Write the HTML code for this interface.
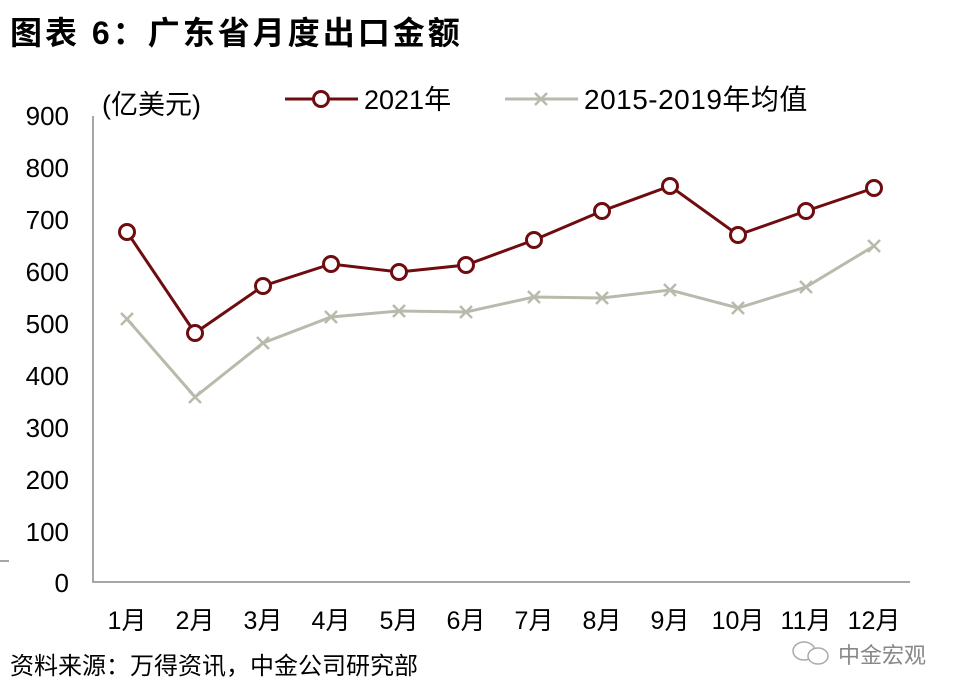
<!DOCTYPE html>
<html><head><meta charset="utf-8"><style>
body{margin:0;background:#fff;}
svg{display:block;font-family:"Liberation Sans","Noto Sans CJK SC",sans-serif;}
</style></head><body>
<svg width="960" height="697" viewBox="0 0 960 697" xmlns="http://www.w3.org/2000/svg">
<text x="10" y="44" font-size="32" font-weight="bold" fill="#000" letter-spacing="3">图表 6：广东省月度出口金额</text>
<text x="102" y="114" font-size="27" fill="#000">(亿美元)</text>
<line x1="285" y1="99" x2="358" y2="99" stroke="#6e0c10" stroke-width="3"/>
<circle cx="321" cy="99" r="7.5" fill="#fff" stroke="#6e0c10" stroke-width="3"/>
<text x="364" y="109" font-size="27" fill="#000">2021年</text>
<line x1="505" y1="99" x2="578" y2="99" stroke="#b9b9ac" stroke-width="3"/>
<path d="M535 93l12 12M547 93l-12 12" stroke="#b9b9ac" stroke-width="2.5"/>
<text x="584" y="109" font-size="28" fill="#000" letter-spacing="0.5">2015-2019年均值</text>
<g font-size="26" fill="#000" text-anchor="end">
<text x="69" y="125">900</text><text x="69" y="177">800</text><text x="69" y="229">700</text>
<text x="69" y="281">600</text><text x="69" y="333">500</text><text x="69" y="385">400</text>
<text x="69" y="437">300</text><text x="69" y="489">200</text><text x="69" y="541">100</text>
<text x="69" y="592">0</text>
</g>
<line x1="0" y1="561" x2="9" y2="561" stroke="#888" stroke-width="1.5"/>
<polyline points="93,116 93,582 910,582" fill="none" stroke="#888" stroke-width="1.5"/>
<g font-size="25" fill="#000" text-anchor="middle">
<text x="127" y="629">1月</text><text x="195" y="629">2月</text><text x="263" y="629">3月</text>
<text x="331" y="629">4月</text><text x="399" y="629">5月</text><text x="466" y="629">6月</text>
<text x="534" y="629">7月</text><text x="602" y="629">8月</text><text x="670" y="629">9月</text>
<text x="738" y="629">10月</text><text x="806" y="629">11月</text><text x="874" y="629">12月</text>
</g>
<polyline fill="none" stroke="#b9b9ac" stroke-width="3" points="127,319 195,397 263,343 331,317 399,311 466,312 534,297 602,298 670,290 738,308 806,287 874,246"/>
<g stroke="#b9b9ac" stroke-width="2.5">
<path d="M121 313l12 12M133 313l-12 12"/><path d="M189 391l12 12M201 391l-12 12"/>
<path d="M257 337l12 12M269 337l-12 12"/><path d="M325 311l12 12M337 311l-12 12"/>
<path d="M393 305l12 12M405 305l-12 12"/><path d="M460 306l12 12M472 306l-12 12"/>
<path d="M528 291l12 12M540 291l-12 12"/><path d="M596 292l12 12M608 292l-12 12"/>
<path d="M664 284l12 12M676 284l-12 12"/><path d="M732 302l12 12M744 302l-12 12"/>
<path d="M800 281l12 12M812 281l-12 12"/><path d="M868 240l12 12M880 240l-12 12"/>
</g>
<polyline fill="none" stroke="#6e0c10" stroke-width="3" points="127,232 195,333 263,286 331,264 399,272 466,265 534,240 602,211 670,186 738,235 806,211 874,188"/>
<g fill="#fff" stroke="#6e0c10" stroke-width="3">
<circle cx="127" cy="232" r="7.5"/><circle cx="195" cy="333" r="7.5"/><circle cx="263" cy="286" r="7.5"/>
<circle cx="331" cy="264" r="7.5"/><circle cx="399" cy="272" r="7.5"/><circle cx="466" cy="265" r="7.5"/>
<circle cx="534" cy="240" r="7.5"/><circle cx="602" cy="211" r="7.5"/><circle cx="670" cy="186" r="7.5"/>
<circle cx="738" cy="235" r="7.5"/><circle cx="806" cy="211" r="7.5"/><circle cx="874" cy="188" r="7.5"/>
</g>
<text x="10" y="674" font-size="24" fill="#000">资料来源：万得资讯，中金公司研究部</text>
<g fill="none" stroke="#aaa" stroke-width="1.5">
<ellipse cx="804" cy="651" rx="11" ry="9"/><ellipse cx="818" cy="656" rx="10" ry="8" fill="#fff"/>
</g>
<text x="838" y="663" font-size="22" fill="#888">中金宏观</text>
</svg>
</body></html>
